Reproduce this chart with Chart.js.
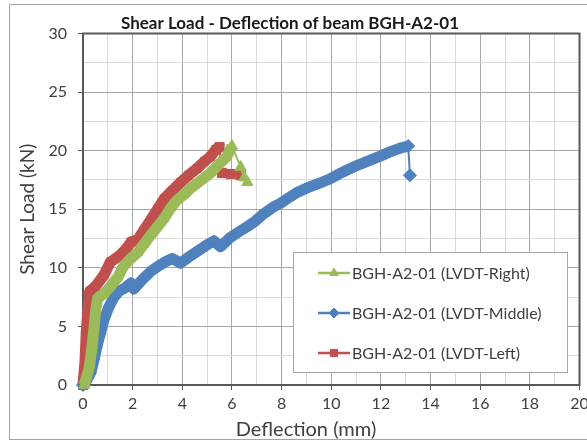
<!DOCTYPE html>
<html lang="en">
<head>
  <meta charset="UTF-8">
  <title>Shear Load - Deflection of beam BGH-A2-01</title>
  <style>
    body { margin: 0; background: #fff; }
    #wrap { width: 587px; height: 443px; }
  </style>
</head>
<body>
<div id="wrap"><canvas id="shear"></canvas></div>

<script src="https://cdn.jsdelivr.net/npm/chart.js"></script>
<script>
// LVDT readings (deflection mm / shear load kN)
let xRight = [0.05, 0.25, 0.35, 0.45, 0.52, 0.59, 0.85, 1.1, 1.4, 1.65, 1.93, 2.2, 2.45, 2.73, 3.0, 3.26, 3.53, 3.8, 4.1, 4.34, 4.65, 4.9, 5.14, 5.45, 5.8, 6.0, 6.35, 6.5, 6.62]
let yRight = [0, 1.5, 3.0, 5.0, 6.5, 7.4, 7.8, 8.4, 9.2, 10.2, 10.8, 11.3, 12.0, 12.8, 13.5, 14.2, 15.1, 15.8, 16.3, 16.8, 17.3, 17.7, 18.1, 18.8, 19.5, 20.4, 18.6, 17.7, 17.3]

let xMiddle = [0, 0.1, 0.32, 0.45, 0.55, 0.7, 0.85, 1.05, 1.25, 1.45, 1.7, 1.93, 2.05, 2.35, 2.73, 3.0, 3.3, 3.6, 3.93, 4.25, 4.6, 4.95, 5.27, 5.54, 5.94, 6.3, 6.6, 6.95, 7.27, 7.67, 7.95, 8.3, 8.6, 9.0, 9.5, 9.96, 10.3, 10.6, 11.0, 11.35, 11.7, 12.05, 12.37, 12.75, 13.1, 13.17]
let yMiddle = [0, 0.2, 1.1, 2.2, 3.2, 4.4, 5.6, 6.7, 7.5, 8.0, 8.3, 8.7, 8.2, 8.9, 9.7, 10.1, 10.5, 10.8, 10.4, 10.9, 11.4, 11.9, 12.3, 11.8, 12.6, 13.1, 13.5, 14.0, 14.6, 15.2, 15.5, 16.0, 16.4, 16.8, 17.2, 17.6, 18.0, 18.3, 18.7, 19.0, 19.3, 19.6, 19.9, 20.2, 20.4, 17.9]

let xLeft = [0, 0.08, 0.13, 0.2, 0.27, 0.5, 0.85, 1.1, 1.45, 1.73, 1.93, 2.2, 2.45, 2.73, 3.0, 3.27, 3.6, 3.93, 4.25, 4.6, 4.9, 5.14, 5.35, 5.5, 5.6, 5.95, 6.35]
let yLeft = [0, 2.0, 4.5, 6.5, 8.0, 8.4, 9.4, 10.5, 11.0, 11.6, 12.2, 12.4, 13.2, 14.1, 15.0, 15.9, 16.6, 17.3, 17.9, 18.5, 19.1, 19.5, 20.1, 20.3, 18.1, 18.0, 17.9]

let seriesNames = ["BGH-A2-01 (LVDT-Right)", "BGH-A2-01 (LVDT-Middle)", "BGH-A2-01 (LVDT-Left)"]
let seriesColors = ["#9BBB59", "#4F81BD", "#C0504D"]
let seriesMarkers = ["triangle", "rectRot", "rect"]

let FONT = "Lato, 'Open Sans', sans-serif"

function toPoints(xs, ys) {
  return xs.map(function (x, i) {
    return { x: x, y: ys[i] };
  });
}

// the loading branch is a dense band of markers; after the peak the
// readings are joined by a thin line with full-size markers
function makeSet(i, pts) {
  let peak = 0
  pts.forEach(function (p, k) { if (p.y > pts[peak].y) peak = k })
  return {
    label: seriesNames[i],
    data: pts,
    borderColor: seriesColors[i],
    backgroundColor: seriesColors[i],
    pointBorderColor: seriesColors[i],
    pointBackgroundColor: seriesColors[i],
    pointStyle: seriesMarkers[i],
    pointBorderWidth: 1,
    pointRadius: function (ctx) { return ctx.dataIndex >= peak || ctx.dataIndex === 0 ? 6.5 : 5.5 },
    pointHoverRadius: 6.5,
    borderWidth: 11,
    borderJoinStyle: "round",
    tension: 0,
    clip: false,
    segment: {
      borderWidth: function (ctx) { return ctx.p0DataIndex >= peak ? 2 : undefined; }
    }
  };
}

// white page with thin outline around the whole figure
let pageFrame = {
  id: "pageFrame",
  beforeDraw: function (chart) {
    let c = chart.ctx
    c.save()
    c.fillStyle = "#fff"
    c.fillRect(0, 0, chart.width, chart.height)
    c.strokeStyle = "#a6a6a6"
    c.lineWidth = 1
    c.strokeRect(9.5, 4.5, chart.width, 435)
    c.restore()
  }
}

// dark box around the plot area
let plotFrame = {
  id: "plotFrame",
  beforeDatasetsDraw: function (chart) {
    let a = chart.chartArea, c = chart.ctx
    c.save()
    c.strokeStyle = "#595959"
    c.lineWidth = 2
    c.strokeRect(a.left, a.top, a.right - a.left, a.bottom - a.top)
    c.restore()
  }
}

// x axis caption sits a little left of the plot centre
let xCaption = {
  id: "xCaption",
  afterDraw: function (chart) {
    let c = chart.ctx
    c.save()
    c.font = "20px " + FONT
    c.fillStyle = "#404040"
    c.textAlign = "center"
    c.textBaseline = "middle"
    c.fillText("Deflection (mm)", 306, 430)
    c.restore()
  }
}

// boxed legend inside the plot, line + marker per series
let boxLegend = {
  id: "boxLegend",
  afterDatasetsDraw: function (chart) {
    let c = chart.ctx
    let bx = 293, by = 252, bw = 274, bh = 120
    c.save()
    c.fillStyle = "#fff"
    c.fillRect(bx, by, bw, bh)
    c.strokeStyle = "#a6a6a6"
    c.lineWidth = 1
    c.strokeRect(bx + 0.5, by + 0.5, bw, bh)
    chart.data.datasets.forEach(function (ds, i) {
      let y = by + 21 + i * 40
      c.strokeStyle = ds.borderColor
      c.fillStyle = ds.borderColor
      c.lineWidth = 2.5
      c.beginPath()
      c.moveTo(318, y)
      c.lineTo(350, y)
      c.stroke()
      c.lineWidth = 1
      Chart.helpers.drawPoint(c, { pointStyle: ds.pointStyle, radius: 5, rotation: 0, borderWidth: 1 }, 334, y)
      c.font = "16px " + FONT
      c.fillStyle = "#404040"
      c.textAlign = "left"
      c.textBaseline = "middle"
      c.fillText(ds.label, 352, y + 1)
    })
    c.restore()
  }
}

new Chart(document.getElementById("shear"), {
  type: "line",
  data: {
    datasets: [
      makeSet(0, toPoints(xRight, yRight)),
      makeSet(1, toPoints(xMiddle, yMiddle)),
      makeSet(2, toPoints(xLeft, yLeft))
    ]
  },
  options: {
    responsive: true,
    maintainAspectRatio: false,
    animation: false,
    layout: { padding: { top: 0, left: 0, right: 7, bottom: 0 } },
    plugins: {
      legend: { display: false },
      tooltip: { enabled: false },
      title: {
        display: true,
        text: "Shear Load - Deflection of beam BGH-A2-01",
        color: "#1a1a1a",
        font: { family: FONT, size: 17, weight: "bold" },
        padding: { top: 13, bottom: 0.1 }
      }
    },
    scales: {
      x: {
        type: "linear",
        min: 0,
        max: 20,
        afterFit: function (s) { s.height = 58; s.paddingLeft = 0; s.paddingRight = 0 },
        border: { display: false },
        grid: {
          color: function (ctx) { return ctx.tick && ctx.tick.value % 2 === 0 ? "#a6a6a6" : "#d9d9d9" },
          tickColor: function (ctx) { return ctx.tick && ctx.tick.value % 2 === 0 ? "#595959" : "rgba(0,0,0,0)" },
          tickLength: 5
        },
        ticks: {
          stepSize: 1,
          autoSkip: false,
          maxRotation: 0,
          padding: 4,
          color: "#404040",
          font: { family: FONT, size: 16 },
          callback: function (v) { return v % 2 === 0 ? v : "" }
        }
      },
      y: {
        min: 0,
        max: 30,
        afterFit: function (s) { s.width = 83; s.paddingTop = 0; s.paddingBottom = 0 },
        border: { display: false },
        grid: {
          color: function (ctx) { return ctx.tick && ctx.tick.value % 5 === 0 ? "#a6a6a6" : "#d9d9d9" },
          tickColor: function (ctx) { return ctx.tick && ctx.tick.value % 5 === 0 ? "#595959" : "rgba(0,0,0,0)" },
          tickLength: 5
        },
        ticks: {
          stepSize: 2.5,
          autoSkip: false,
          padding: 11,
          color: "#404040",
          font: { family: FONT, size: 16 },
          callback: function (v) { return v % 5 === 0 ? v : "" }
        },
        title: {
          display: true,
          text: "Shear Load (kN)",
          color: "#404040",
          font: { family: FONT, size: 19 },
          padding: { top: 16, bottom: 0 }
        }
      }
    }
  },
  plugins: [pageFrame, plotFrame, xCaption, boxLegend]
});
</script>
</body>
</html>
